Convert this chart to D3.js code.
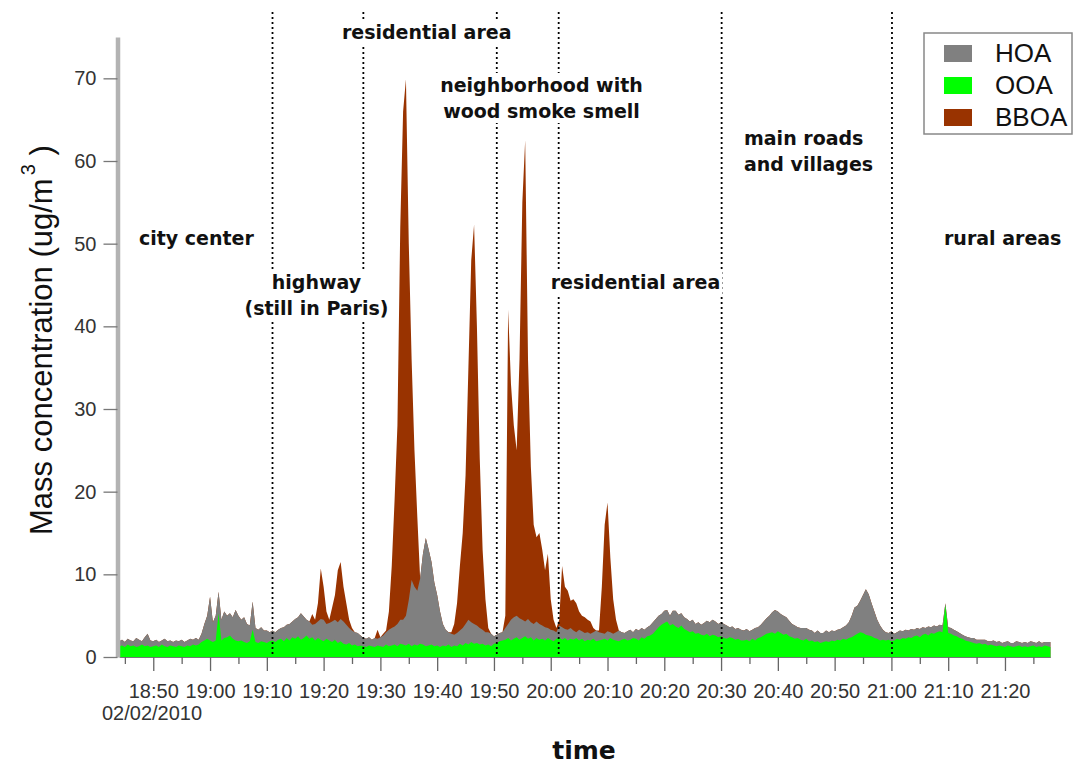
<!DOCTYPE html>
<html>
<head>
<meta charset="utf-8">
<script src="https://cdn.jsdelivr.net/npm/d3@7"></script>
<style>
  body { margin: 0; background: #fff; }
  svg { display: block; }
</style>
</head>
<body>
<script>
// one reading every 30 s, starting 18:44 on 02/02/2010
var startTime = new Date(2010, 1, 2, 18, 44);
var stepMinutes = 0.5;

// OOA, ug/m3 (bottom layer)
var ooa = [
  1.3,1.4,1.2,1.5,1.3,1.4,1.2,1.3,1.5,1.3,
  1.4,1.2,1.3,1.4,1.2,1.5,1.3,1.2,1.4,1.3,
  1.2,1.4,1.3,1.2,1.4,1.3,1.5,1.4,1.5,1.8,
  2.0,2.2,2.0,1.8,2.0,5.3,2.0,2.3,2.4,2.6,
  2.2,2.0,1.9,2.0,1.8,1.7,1.9,3.3,1.8,1.7,
  1.9,1.8,1.7,1.9,2.0,1.8,2.1,2.2,1.9,2.3,
  2.0,2.4,2.2,2.5,2.1,2.3,2.6,2.2,2.4,2.0,
  2.3,2.1,1.9,2.2,2.0,1.8,2.1,1.7,1.9,1.6,
  1.5,1.7,1.4,1.5,1.3,1.4,1.3,1.2,1.4,1.3,
  1.2,1.4,1.3,1.2,1.5,1.3,1.4,1.5,1.3,1.6,
  1.5,1.4,1.6,1.3,1.5,1.4,1.6,1.5,1.3,1.4,
  1.5,1.3,1.4,1.2,1.4,1.3,1.5,1.2,1.4,1.3,
  1.6,1.4,1.7,1.5,1.8,1.6,1.7,1.5,1.6,1.4,
  1.5,1.3,1.6,1.7,1.9,2.0,2.1,2.3,2.0,2.2,
  2.4,2.1,2.3,2.5,2.2,2.4,2.0,2.3,2.1,2.2,
  2.0,2.3,2.1,1.9,2.2,2.4,2.1,2.3,2.0,2.2,
  2.1,2.3,2.0,2.2,1.9,2.1,2.0,2.2,1.9,2.0,
  2.1,2.2,2.0,2.3,2.1,2.0,1.9,2.1,2.2,2.0,
  2.1,2.3,2.2,2.0,2.4,2.2,2.5,2.6,2.8,3.2,
  3.6,3.9,4.1,4.3,3.8,4.0,3.7,3.5,3.8,3.4,
  3.2,3.0,3.1,2.8,2.9,2.7,2.6,2.8,2.5,2.7,
  2.6,2.4,2.5,2.3,2.2,2.4,2.3,2.1,2.2,2.0,
  2.0,2.1,1.9,2.2,2.0,2.3,2.4,2.6,2.8,2.9,
  3.0,2.8,3.1,2.9,2.7,2.8,2.5,2.4,2.2,2.3,
  2.1,2.0,2.2,1.9,2.0,1.8,1.9,1.7,1.8,1.9,
  1.8,2.0,1.9,2.1,2.0,2.2,2.1,2.3,2.4,2.6,
  2.8,3.0,2.9,2.7,2.6,2.5,2.3,2.2,2.0,2.1,
  2.0,2.1,1.9,2.0,2.2,2.1,2.3,2.2,2.4,2.3,
  2.5,2.6,2.4,2.7,2.8,2.6,2.9,2.8,3.0,3.1,
  3.0,6.3,2.9,2.8,2.6,2.5,2.3,2.2,2.0,1.9,
  1.8,1.7,1.6,1.7,1.5,1.6,1.4,1.5,1.4,1.3,
  1.4,1.3,1.2,1.4,1.3,1.2,1.3,1.4,1.2,1.3,
  1.2,1.3,1.4,1.2,1.3,1.2,1.4,1.3,1.2
];

// HOA, ug/m3 (stacked on OOA)
var hoa = [
  0.6,0.7,0.6,0.7,0.7,0.5,1.1,0.8,0.4,1.1,
  1.4,0.8,0.6,0.7,0.6,0.5,0.9,0.7,0.6,0.5,
  0.8,0.5,0.8,0.6,0.6,0.9,0.6,0.9,0.6,1.0,
  2.0,2.8,5.3,2.4,3.0,2.6,2.5,3.2,2.6,2.7,
  2.6,3.7,3.1,2.5,3.0,2.3,1.9,3.4,1.7,1.6,
  1.7,1.4,1.5,1.1,1.2,1.2,1.2,1.3,1.7,1.6,
  2.0,1.9,2.4,2.3,3.2,2.6,1.9,2.1,1.5,2.0,
  2.0,2.5,2.6,1.8,2.1,2.5,2.4,2.5,2.7,2.7,
  2.4,1.8,1.8,1.5,1.6,1.2,1.0,1.0,1.0,0.8,
  1.1,0.8,1.1,1.4,1.5,2.0,2.1,2.2,2.7,2.9,
  3.0,3.6,5.3,8.0,7.0,6.6,7.9,11.0,13.1,11.6,
  10.0,7.7,6.1,4.3,2.6,2.0,1.5,1.6,1.3,1.6,
  1.6,2.1,2.3,3.0,2.4,2.4,2.1,2.0,1.7,1.6,
  1.5,1.5,0.9,1.0,1.0,1.0,1.4,1.7,2.5,2.6,
  2.6,2.6,2.2,1.8,2.4,1.8,2.0,2.0,1.9,1.6,
  1.6,1.2,1.2,1.3,0.8,1.4,1.5,1.1,1.3,1.3,
  1.1,0.7,1.3,0.9,1.0,0.9,0.8,0.8,1.3,1.0,
  0.8,0.6,1.1,0.7,0.7,1.0,1.3,0.9,0.7,1.1,
  1.2,0.7,1.2,1.2,1.1,1.1,1.1,1.2,1.4,1.4,
  1.4,1.3,1.5,1.4,1.2,1.6,1.9,1.6,1.5,1.4,
  1.4,1.3,1.4,1.2,1.3,1.2,1.5,1.6,1.7,1.8,
  1.7,1.6,1.7,1.7,1.6,1.2,1.4,1.3,1.3,1.3,
  1.2,1.3,1.2,1.1,1.5,1.3,1.5,1.7,1.9,2.1,
  2.4,2.9,2.4,2.3,2.3,2.0,1.9,1.6,1.6,1.3,
  1.4,1.5,1.3,1.4,1.2,1.1,1.3,1.2,1.1,1.3,
  1.2,1.2,1.2,1.2,1.4,1.4,1.7,1.9,2.6,3.4,
  3.4,3.8,4.6,5.5,5.0,4.0,3.2,2.3,1.8,1.2,
  1.0,0.8,1.2,0.8,0.8,1.1,0.8,1.1,0.8,1.1,
  0.8,0.9,1.0,0.9,0.7,1.1,0.7,1.0,0.7,0.8,
  0.8,0.2,0.7,0.7,0.7,0.6,0.6,0.5,0.5,0.5,
  0.5,0.6,0.5,0.4,0.6,0.5,0.5,0.4,0.6,0.5,
  0.5,0.4,0.6,0.5,0.4,0.5,0.6,0.4,0.5,0.5,
  0.5,0.6,0.4,0.5,0.6,0.5,0.4,0.5,0.6
];

// BBOA, ug/m3 (stacked on HOA)
var bboa = [
  0,0,0,0,0,0,0,0,0,0,
  0,0,0,0,0,0,0,0,0,0,
  0,0,0,0,0,0,0,0,0,0,
  0,0,0,0,0,0,0,0,0,0,
  0,0,0,0,0,0,0,0,0,0,
  0,0,0,0,0,0,0,0,0,0,
  0,0,0,0,0,0,0,0,1.3,0.5,
  2.2,6.1,4.0,1.5,0.4,1.7,3.0,6.3,6.9,4.2,
  2.6,1.0,0.3,0,0,0,0,0,0,0,
  0,1.1,0,0.2,0.2,2.2,7.5,15.3,24.0,47.5,
  61.5,64.9,43.1,26.7,16.5,9.0,0,0,0,0,
  0,0,0,0,0,0,0,0.2,1.3,3.6,
  7.8,11.5,18.0,30.5,43.8,48.3,36.2,20.5,9.7,4.0,
  0.5,0,0,0,0,0,1.5,38.0,28.5,23.2,
  20.0,31.3,50.5,58.2,31.4,18.8,12.0,10.2,11.0,9.2,
  6.9,9.0,3.7,1.3,0.5,0.7,7.4,5.1,4.7,3.3,
  3.8,3.5,2.2,1.9,1.9,1.5,1.5,0.5,0,0.2,
  5.6,13.2,15.6,9.0,4.2,1.5,0,0,0,0,
  0,0,0,0,0,0,0,0,0,0,
  0,0,0,0,0,0,0,0,0,0,
  0,0,0,0,0,0,0,0,0,0,
  0,0,0,0,0,0,0,0,0,0,
  0,0,0,0,0,0,0,0,0,0,
  0,0,0,0,0,0,0,0,0,0,
  0,0,0,0,0,0,0,0,0,0,
  0,0,0,0,0,0,0,0,0,0,
  0,0,0,0,0,0,0,0,0,0,
  0,0,0,0,0,0,0,0,0,0,
  0,0,0,0,0,0,0,0,0,0,
  0,0,0,0,0,0,0,0,0,0,
  0,0,0,0,0,0,0,0,0,0,
  0,0,0,0,0,0,0,0,0,0,
  0,0,0,0,0,0,0,0,0
];

var legendKeys = ["HOA", "OOA", "BBOA"];
var yTicks = [0, 10, 20, 30, 40, 50, 60, 70];
var majorTicks = ["18:50","19:00","19:10","19:20","19:30","19:40","19:50","20:00",
                  "20:10","20:20","20:30","20:40","20:50","21:00","21:10","21:20"];
var minorTicks = ["18:45","18:55","19:05","19:15","19:25","19:35","19:45","19:55",
                  "20:05","20:15","20:25","20:35","20:45","20:55","21:05","21:15","21:25"];
var dateLabel = "02/02/2010";
// times where the drive moved into a new kind of area
var boundaries = ["19:11:00","19:27:00","19:50:30","20:01:24","20:30:06","21:00:06"];
var areaLabels = [["city center"], ["highway", "(still in Paris)"], ["residential area"],
                  ["neighborhood with", "wood smoke smell"], ["residential area"],
                  ["main roads", "and villages"], ["rural areas"]];

// ---- layout ----
var width = 1074, height = 767;
var colors = {HOA: "#808080", OOA: "#00ff00", BBOA: "#993300"};
var labelFont = "'DejaVu Sans', Verdana, sans-serif";
var axisFont = "'Liberation Sans', Arial, sans-serif";
// [x, first baseline, anchor] for each area label
var labelPos = [[139, 245, "start"], [316.5, 289, "middle"], [426.7, 39, "middle"],
                [541.5, 92, "middle"], [635.5, 289, "middle"], [744, 145, "start"],
                [944, 245, "start"]];

function toTime(s) {
  var p = s.split(":").map(Number);
  return new Date(2010, 1, 2, p[0], p[1], p[2] || 0);
}

var svg = d3.select("body").append("svg")
            .attr("width", width)
            .attr("height", height);

var x = d3.scaleTime()
          .domain([startTime, d3.timeMinute.offset(startTime, 164)])
          .range([119.2, 1050.4]);
var y = d3.scaleLinear()
          .domain([0, 75])
          .range([657, 37]);

var rows = ooa.map(function(v, i) {
  return {time: new Date(startTime.getTime() + i * stepMinutes * 60000),
          OOA: v, HOA: hoa[i], BBOA: bboa[i]};
});
var stacked = d3.stack().keys(["OOA", "HOA", "BBOA"])(rows);

// draw tops from zero, biggest first, so there are no seams between bands
var area = d3.area()
             .x(function(d) { return x(d.data.time); })
             .y0(y(0))
             .y1(function(d) { return y(d[1]); });

svg.append("g").selectAll("path")
   .data(stacked.slice().reverse())
   .enter().append("path")
   .attr("fill", function(d) { return colors[d.key]; })
   .attr("d", area);

// x axis: minor then major ticks
var xMinor = svg.append("g")
    .attr("transform", "translate(0,657)")
    .call(d3.axisBottom(x).tickValues(minorTicks.map(toTime))
            .tickSize(7).tickSizeOuter(0).tickFormat(""));
xMinor.select(".domain").attr("stroke", "#777");
xMinor.selectAll(".tick line").attr("stroke", "#666").attr("stroke-width", 1.3);

var xMajor = svg.append("g")
    .attr("transform", "translate(0,657)")
    .call(d3.axisBottom(x).tickValues(majorTicks.map(toTime))
            .tickSize(14).tickSizeOuter(0).tickFormat(d3.timeFormat("%H:%M")));
xMajor.select(".domain").remove();
xMajor.selectAll(".tick line").attr("stroke", "#666").attr("stroke-width", 1.3);
xMajor.selectAll(".tick text")
      .attr("y", 41).attr("dy", null)
      .attr("font-family", axisFont).attr("font-size", 20).attr("fill", "#333");

svg.append("text")
   .attr("x", 102).attr("y", 720)
   .attr("font-family", axisFont).attr("font-size", 20).attr("fill", "#333")
   .text(dateLabel);

// y axis
var yAxis = svg.append("g")
    .attr("transform", "translate(117.5,0)")
    .call(d3.axisLeft(y).tickValues(yTicks).tickSize(14).tickPadding(7).tickSizeOuter(0));
yAxis.select(".domain").attr("stroke", "#b3b3b3").attr("stroke-width", 4.5);
yAxis.selectAll(".tick line").attr("stroke", "#777").attr("stroke-width", 1.3);
yAxis.selectAll(".tick text")
     .attr("font-family", axisFont).attr("font-size", 20).attr("fill", "#333");

// dotted boundaries
svg.append("g").selectAll("line")
   .data(boundaries)
   .enter().append("line")
   .attr("x1", function(d) { return x(toTime(d)); })
   .attr("x2", function(d) { return x(toTime(d)); })
   .attr("y1", 12)
   .attr("y2", 657)
   .attr("stroke", "#000")
   .attr("stroke-width", 1.8)
   .attr("stroke-dasharray", "2,3");

// area labels, on white so they cut the dotted lines
areaLabels.forEach(function(lines, i) {
  var p = labelPos[i];
  var g = svg.append("g");
  var t = g.append("text")
           .attr("font-family", labelFont)
           .attr("font-weight", "bold")
           .attr("font-size", 19)
           .attr("text-anchor", p[2])
           .attr("fill", "#111");
  lines.forEach(function(s, j) {
    t.append("tspan").attr("x", p[0]).attr("y", p[1] + j * 26).text(s);
  });
  var b = t.node().getBBox();
  g.insert("rect", "text")
   .attr("x", b.x - 2).attr("y", b.y - 1)
   .attr("width", b.width + 4).attr("height", b.height + 2)
   .attr("fill", "#fff");
});

// axis titles
var ylab = svg.append("text")
   .attr("transform", "translate(52,535) rotate(-90)")
   .attr("font-family", axisFont)
   .attr("font-size", 31)
   .attr("fill", "#111");
ylab.append("tspan").text("Mass concentration (ug/m");
ylab.append("tspan").attr("font-size", 20).attr("dy", -17).attr("dx", 3).text("3");
ylab.append("tspan").attr("dy", 17).text(" )");

svg.append("text")
   .attr("x", 584).attr("y", 759)
   .attr("text-anchor", "middle")
   .attr("font-family", labelFont)
   .attr("font-weight", "bold")
   .attr("font-size", 25)
   .attr("fill", "#111")
   .text("time");

// legend
var legend = svg.append("g");
legend.append("rect")
      .attr("x", 924).attr("y", 33)
      .attr("width", 148).attr("height", 101)
      .attr("fill", "#fff")
      .attr("stroke", "#888")
      .attr("stroke-width", 1.5);
var item = legend.selectAll("g.item")
                 .data(legendKeys)
                 .enter().append("g")
                 .attr("class", "item");
item.append("rect")
    .attr("x", 944)
    .attr("y", function(d, i) { return 45 + i * 32; })
    .attr("width", 28).attr("height", 17)
    .attr("fill", function(d) { return colors[d]; });
item.append("text")
    .attr("x", 995)
    .attr("y", function(d, i) { return 62 + i * 32; })
    .attr("font-family", axisFont)
    .attr("font-size", 26)
    .attr("fill", "#111")
    .text(function(d) { return d; });
</script>
</body>
</html>
